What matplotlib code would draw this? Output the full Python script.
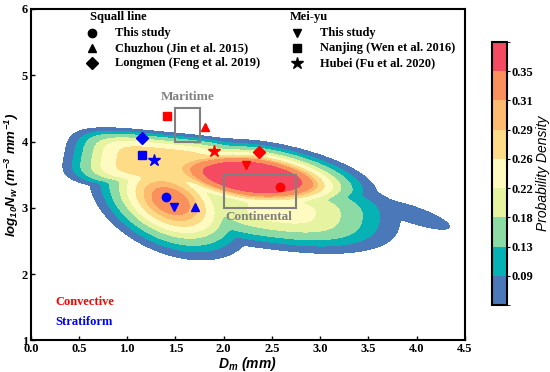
import numpy as np
import matplotlib.pyplot as plt
from matplotlib.colors import ListedColormap, BoundaryNorm
from matplotlib.patches import Rectangle

plt.rcParams['font.family'] = ['Liberation Serif', 'DejaVu Serif']
plt.rcParams['font.weight'] = 'bold'
plt.rcParams['mathtext.fontset'] = 'custom'
plt.rcParams['mathtext.it'] = 'Liberation Sans:italic:bold'
plt.rcParams['mathtext.rm'] = 'Liberation Sans:italic:bold'
plt.rcParams['mathtext.bf'] = 'Liberation Sans:italic:bold'

# density surface read off the picture as a few lobes, joined by a soft maximum
# lobes: main peak, upper-left ridge, lower-left ridge, lower body, right tail
lobe_dm = [2.30, 1.35, 1.45, 2.60, 3.95]
lobe_nw = [3.46, 3.68, 3.10, 2.95, 2.90]
lobe_along = [0.78, 0.74, 0.60, 0.79, 0.45]
lobe_across = [0.33, 0.34, 0.40, 0.37, 0.12]
lobe_angle = [-11, -8, -49, -10, -27]
lobe_square = [1.8, 4, 2, 2.5, 2]
lobe_flat = [2.8, 4, 2.5, 2.5, 2]
lobe_height = [0.41, 0.28, 0.325, 0.235, 0.08]

levels = [0.05, 0.09, 0.13, 0.18, 0.22, 0.26, 0.29, 0.31, 0.35, 0.60]
colors = ['#4a78b8', '#06b2b4', '#8cdaa4', '#e6f3a0', '#fefac0',
          '#fedb86', '#fdbb70', '#fa915c', '#f44b63']

# squall line (circle, up triangle, diamond) and mei-yu (down triangle, square, star)
markers = ['o', '^', 'D', 'v', 's', '*']
conv_dm = [2.58, 1.81, 2.37, 2.23, 1.41, 1.90]
conv_nw = [3.31, 4.22, 3.84, 3.65, 4.38, 3.86]
strat_dm = [1.40, 1.70, 1.155, 1.49, 1.155, 1.28]
strat_nw = [3.16, 3.01, 4.05, 3.01, 3.80, 3.72]

squall_labels = ['This study', 'Chuzhou (Jin et al. 2015)', 'Longmen (Feng et al. 2019)']
meiyu_labels = ['This study', 'Nanjing (Wen et al. 2016)', 'Hubei (Fu et al. 2020)']


def density(x, y):
    acc = np.zeros_like(x)
    for cx, cy, sa, sc, ang, a, m, h in zip(lobe_dm, lobe_nw, lobe_along, lobe_across,
                                            lobe_angle, lobe_square, lobe_flat, lobe_height):
        t = np.deg2rad(ang)
        dx, dy = x - cx, y - cy
        u = (dx * np.cos(t) + dy * np.sin(t)) / sa
        v = (-dx * np.sin(t) + dy * np.cos(t)) / sc
        r = (np.abs(u) ** a + np.abs(v) ** a) ** (1.0 / a)
        acc += (h * np.exp(-0.5 * r ** m)) ** 12
    return acc ** (1.0 / 12)


xx, yy = np.meshgrid(np.linspace(0, 4.5, 450), np.linspace(1, 6, 500))
zz = density(xx, yy)

fig = plt.figure(figsize=(5.5, 3.72), dpi=100)
ax = fig.add_axes([0.056, 0.085, 0.789, 0.891])
cmap = ListedColormap(colors)
norm = BoundaryNorm(levels, cmap.N)
cf = ax.contourf(xx, yy, zz, levels=levels, cmap=cmap, norm=norm)

# maritime / continental boxes
ax.add_patch(Rectangle((1.5, 4.0), 0.25, 0.5, fill=False, ec='#808080', lw=1.5))
ax.add_patch(Rectangle((2.0, 3.0), 0.75, 0.5, fill=False, ec='#808080', lw=1.5))
ax.text(1.63, 4.67, 'Maritime', color='#808080', fontsize=9.5, ha='center', va='center')
ax.text(2.36, 2.86, 'Continental', color='#808080', fontsize=9.5, ha='center', va='center')

for m, x, y in zip(markers, conv_dm, conv_nw):
    ax.plot(x, y, marker=m, color='red', ms=9 if m == '*' else 6, ls='none')
for m, x, y in zip(markers, strat_dm, strat_nw):
    ax.plot(x, y, marker=m, color='blue', ms=9 if m == '*' else 6, ls='none')

# legend drawn by hand
ax.text(0.137, 0.976, 'Squall line', transform=ax.transAxes, fontsize=9, va='center')
ax.text(0.597, 0.976, 'Mei-yu', transform=ax.transAxes, fontsize=9, va='center')
rows = [0.928, 0.882, 0.837]
for i in range(3):
    ax.plot(0.141, rows[i], marker=markers[i], color='k', ms=6, transform=ax.transAxes)
    ax.text(0.194, rows[i], squall_labels[i], transform=ax.transAxes, fontsize=9, va='center')
    m = markers[i + 3]
    ax.plot(0.613, rows[i], marker=m, color='k', ms=9 if m == '*' else 6, transform=ax.transAxes)
    ax.text(0.666, rows[i], meiyu_labels[i], transform=ax.transAxes, fontsize=9, va='center')

ax.text(0.25, 1.58, 'Convective', color='red', fontsize=9, va='center')
ax.text(0.25, 1.28, 'Stratiform', color='blue', fontsize=9, va='center')

ax.set_xlim(0, 4.5)
ax.set_ylim(1, 6)
ax.set_xticks(np.arange(0, 4.51, 0.5))
ax.set_yticks([1, 2, 3, 4, 5, 6])
ax.tick_params(direction='in', labelsize=9, width=1, length=3, pad=2)
for s in ax.spines.values():
    s.set_linewidth(1.5)
ax.set_xlabel(r'$D_m\ (mm)$', fontsize=10)
ax.set_ylabel(r'$log_{10}N_w\ (m^{-3}\ mm^{-1})$', fontsize=9.5)
ax.xaxis.set_label_coords(0.5, -0.045)
ax.yaxis.set_label_coords(-0.022, 0.5)

cax = fig.add_axes([0.895, 0.18, 0.027, 0.707])
cb = fig.colorbar(cf, cax=cax, ticks=levels[1:-1], spacing='uniform')
cb.ax.set_yticklabels(['%.2f' % v for v in levels[1:-1]])
cb.ax.tick_params(labelsize=9, direction='out', length=2, pad=1)
cb.outline.set_linewidth(1.5)
cb.set_label('Probability Density', fontsize=10, fontstyle='italic', family='Liberation Sans', labelpad=2)

fig.savefig('out.png', dpi=100)
